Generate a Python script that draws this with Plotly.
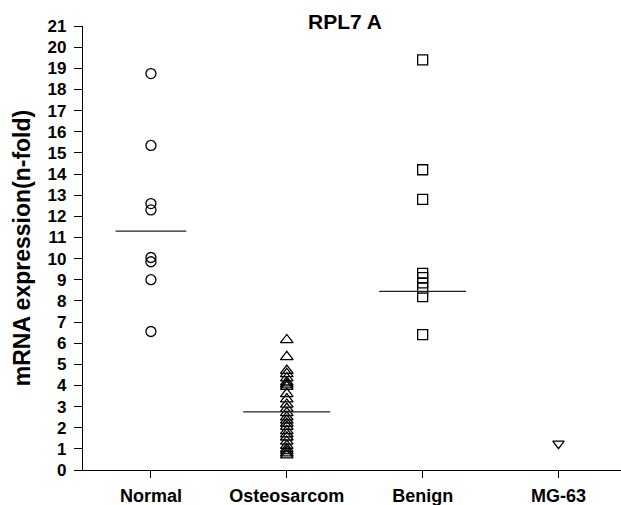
import plotly.graph_objects as go

categories = ["Normal", "Osteosarcom", "Benign", "MG-63"]
normal = [18.75, 15.35, 12.6, 12.3, 10.05, 9.85, 9.0, 6.55]
osteosarcoma = [6.15, 5.35, 4.7, 4.55, 4.35, 4.15, 4.05, 3.95, 3.6, 3.35, 3.1,
                2.9, 2.7, 2.5, 2.35, 2.2, 2.05, 1.85, 1.7, 1.55, 1.35, 1.15,
                1.0, 0.9, 0.8, 0.7]
benign = [19.4, 14.2, 12.8, 9.3, 9.1, 8.85, 8.6, 8.2, 6.4]
mg63 = [1.25]
medians = [11.3, 2.75, 8.45, None]
y_ticks = list(range(0, 22))

series = [normal, osteosarcoma, benign, mg63]
symbols = ["circle-open", "triangle-up-open", "square-open", "triangle-down-open"]
sizes = [10, 11, 10, 10]
half_widths = [0.26, 0.32, 0.32, 0.3]

FONT = "Liberation Sans, Arial, Helvetica, sans-serif"

fig = go.Figure()
for i, (vals, sym, sz) in enumerate(zip(series, symbols, sizes)):
    fig.add_trace(go.Scatter(
        x=[i] * len(vals), y=vals, mode="markers",
        marker=dict(symbol=sym, size=sz, color="black",
                    line=dict(color="black", width=1.3)),
        showlegend=False, hoverinfo="y"))
for i, m in enumerate(medians):
    if m is None:
        continue
    w = half_widths[i]
    fig.add_trace(go.Scatter(
        x=[i - w, i + w], y=[m, m], mode="lines",
        line=dict(color="#222", width=1.3), showlegend=False, hoverinfo="skip"))

fig.update_layout(
    width=621, height=505,
    margin=dict(l=83, r=0, t=26, b=35, autoexpand=False),
    plot_bgcolor="white", paper_bgcolor="white",
    font=dict(family=FONT, color="black"),
    title=dict(text="<b>RPL7 A</b>", font=dict(size=21, family=FONT),
               x=0.487, xref="paper", xanchor="center",
               y=1 - 22 / 505, yref="container", yanchor="middle"),
    xaxis=dict(range=[-0.5, 3.46], tickvals=list(range(len(categories))),
               ticktext=["<b>%s</b>" % c for c in categories],
               showline=True, linecolor="black", linewidth=1.2,
               ticks="outside", ticklen=7, tickcolor="black", tickwidth=1.2,
               showgrid=False, zeroline=False, ticklabelstandoff=2,
               tickfont=dict(size=18, family=FONT)),
    yaxis=dict(range=[0, 21], tickvals=y_ticks,
               ticktext=["<b>%d</b>" % t for t in y_ticks],
               showline=True, linecolor="black", linewidth=1.2,
               ticks="outside", ticklen=8, tickcolor="black", tickwidth=1.2,
               showgrid=False, zeroline=False, ticklabelstandoff=4,
               tickfont=dict(size=17, family=FONT),
               title=dict(text="<b>mRNA expression(n-fold)</b>",
                          font=dict(size=23, family=FONT), standoff=10)),
)

fig.write_html("out.html", config={"displayModeBar": False},
               post_script="document.body.style.margin='0';")
